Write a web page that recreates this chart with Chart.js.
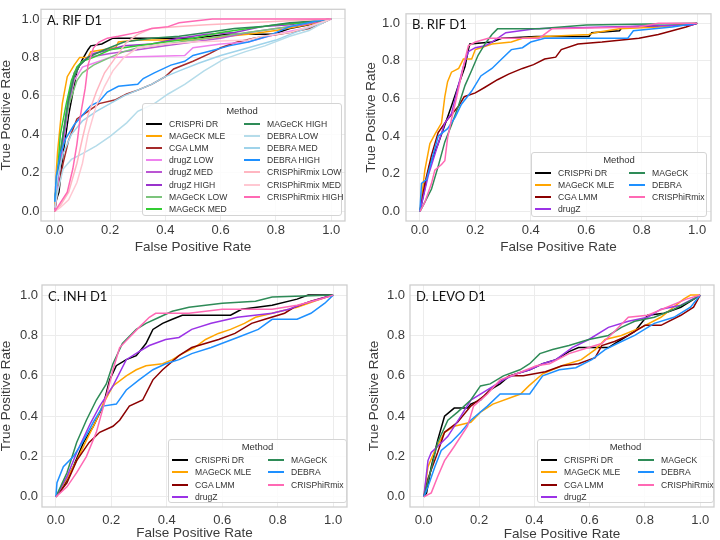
<!DOCTYPE html>
<html>
<head>
<meta charset="utf-8">
<script src="https://cdn.jsdelivr.net/npm/chart.js@4.4.1/dist/chart.umd.min.js"></script>
<style>
  html, body { margin: 0; padding: 0; background: #fff; overflow: hidden; }
  body { width: 720px; height: 540px; position: relative; font-family: 'Liberation Sans', Arial, sans-serif; }
  canvas { position: absolute; }
  .legend { position: absolute; box-sizing: border-box; background: rgba(255,255,255,0.85);
            border: 1px solid #d4d4d4; border-radius: 3px; color: #333; }
  .legend .ttl { position: absolute; left: 0; right: 0; text-align: center; font-size: 9.5px; line-height: 10px; }
  .legend .item { position: absolute; font-size: 8.6px; line-height: 10px; white-space: nowrap; }
  .legend .swatch { position: absolute; width: 16px; height: 2px; }
</style>
</head>
<body>
<canvas id="pA" width="360" height="270" style="left:0;top:0"></canvas>
<canvas id="pB" width="360" height="270" style="left:360px;top:0"></canvas>
<canvas id="pC" width="360" height="275" style="left:0;top:270px"></canvas>
<canvas id="pD" width="360" height="275" style="left:360px;top:270px"></canvas>
<script>
// ---- data: [false positive rate, true positive rate] ----
const TICKS = [0, 0.2, 0.4, 0.6, 0.8, 1.0];

// A. RIF D1
const A_CRISPRI_DR = [[0,0],[0.003,0.05],[0.015,0.1],[0.03,0.3],[0.05,0.5],[0.08,0.73],[0.1,0.79],[0.12,0.84],[0.13,0.86],[0.17,0.87],[0.21,0.9],[0.5,0.9],[0.63,0.92],[0.79,0.92],[0.85,0.95],[0.92,0.97],[0.97,0.99],[1,1]];
const A_MAGECK_MLE = [[0,0],[0.005,0.2],[0.01,0.31],[0.027,0.56],[0.045,0.7],[0.07,0.76],[0.09,0.8],[0.12,0.8],[0.13,0.83],[0.22,0.85],[0.23,0.88],[0.3,0.89],[0.5,0.89],[0.55,0.9],[0.7,0.92],[0.8,0.94],[0.88,0.96],[0.95,0.98],[1,1]];
const A_CGA_LMM = [[0,0],[0.01,0.1],[0.03,0.25],[0.05,0.37],[0.08,0.48],[0.12,0.52],[0.16,0.56],[0.22,0.58],[0.26,0.61],[0.3,0.63],[0.35,0.66],[0.4,0.7],[0.43,0.74],[0.5,0.78],[0.56,0.82],[0.6,0.85],[0.66,0.88],[0.72,0.9],[0.85,0.93],[0.92,0.95],[0.97,0.98],[1,1]];
const A_DRUGZ_LOW = [[0,0],[0.01,0.15],[0.03,0.35],[0.05,0.55],[0.07,0.68],[0.1,0.75],[0.14,0.77],[0.2,0.8],[0.47,0.81],[0.5,0.85],[0.6,0.87],[0.7,0.88],[0.8,0.92],[0.9,0.95],[1,1]];
const A_DRUGZ_MED = [[0,0.05],[0.01,0.15],[0.03,0.35],[0.05,0.55],[0.07,0.7],[0.09,0.76],[0.12,0.8],[0.2,0.82],[0.3,0.84],[0.4,0.86],[0.5,0.88],[0.6,0.9],[0.7,0.93],[0.8,0.95],[0.9,0.97],[1,1]];
const A_DRUGZ_HIGH = [[0,0.05],[0.01,0.2],[0.03,0.4],[0.05,0.6],[0.07,0.72],[0.1,0.78],[0.14,0.82],[0.2,0.84],[0.25,0.86],[0.35,0.87],[0.45,0.9],[0.55,0.92],[0.65,0.93],[0.75,0.96],[0.85,0.97],[0.95,0.99],[1,1]];
const A_MAGECK_LOW = [[0,0.05],[0.01,0.2],[0.03,0.4],[0.05,0.55],[0.08,0.68],[0.1,0.72],[0.14,0.76],[0.2,0.8],[0.25,0.83],[0.3,0.85],[0.4,0.87],[0.55,0.9],[0.65,0.92],[0.75,0.94],[0.85,0.96],[0.95,0.99],[1,1]];
const A_MAGECK_MED = [[0,0.05],[0.01,0.2],[0.02,0.4],[0.04,0.55],[0.06,0.68],[0.08,0.75],[0.1,0.78],[0.14,0.8],[0.2,0.84],[0.3,0.86],[0.4,0.88],[0.5,0.9],[0.6,0.93],[0.7,0.95],[0.8,0.97],[0.9,0.98],[1,1]];
const A_MAGECK_HIGH = [[0,0.05],[0.01,0.2],[0.03,0.4],[0.05,0.58],[0.07,0.7],[0.09,0.76],[0.12,0.8],[0.18,0.84],[0.25,0.88],[0.35,0.9],[0.45,0.91],[0.55,0.93],[0.65,0.95],[0.75,0.96],[0.85,0.98],[0.95,0.99],[1,1]];
const A_DEBRA_LOW = [[0,0.02],[0.01,0.1],[0.03,0.22],[0.06,0.27],[0.1,0.3],[0.15,0.34],[0.2,0.39],[0.26,0.46],[0.3,0.52],[0.36,0.56],[0.41,0.61],[0.47,0.66],[0.54,0.73],[0.61,0.79],[0.69,0.83],[0.76,0.86],[0.85,0.91],[0.92,0.94],[0.97,0.98],[1,1]];
const A_DEBRA_MED = [[0,0.05],[0.01,0.18],[0.03,0.3],[0.06,0.4],[0.1,0.47],[0.15,0.52],[0.2,0.56],[0.25,0.6],[0.3,0.63],[0.35,0.66],[0.4,0.7],[0.45,0.73],[0.52,0.77],[0.6,0.81],[0.7,0.85],[0.8,0.89],[0.87,0.93],[0.93,0.96],[1,1]];
const A_DEBRA_HIGH = [[0,0.05],[0.005,0.18],[0.02,0.3],[0.04,0.38],[0.07,0.45],[0.1,0.5],[0.13,0.55],[0.16,0.57],[0.19,0.62],[0.23,0.65],[0.3,0.66],[0.32,0.69],[0.36,0.72],[0.42,0.76],[0.47,0.78],[0.5,0.81],[0.58,0.84],[0.63,0.86],[0.7,0.88],[0.77,0.91],[0.85,0.96],[0.95,0.99],[1,1]];
const A_CRISPHIRMIX_LOW = [[0,0],[0.02,0.03],[0.05,0.1],[0.08,0.25],[0.1,0.38],[0.12,0.5],[0.15,0.62],[0.18,0.72],[0.22,0.8],[0.26,0.88],[0.3,0.92],[0.35,0.95],[0.45,0.96],[0.55,0.97],[0.7,0.98],[0.85,0.99],[1,1]];
const A_CRISPHIRMIX_MED = [[0,0],[0.02,0.02],[0.05,0.06],[0.08,0.15],[0.1,0.25],[0.12,0.4],[0.15,0.55],[0.18,0.65],[0.21,0.73],[0.25,0.8],[0.3,0.85],[0.4,0.87],[0.5,0.88],[0.7,0.89],[0.75,0.91],[0.85,0.93],[0.92,0.96],[1,1]];
const A_CRISPHIRMIX_HIGH = [[0,0],[0.045,0.1],[0.065,0.22],[0.08,0.35],[0.093,0.5],[0.11,0.64],[0.12,0.76],[0.14,0.85],[0.16,0.88],[0.19,0.9],[0.23,0.91],[0.3,0.93],[0.35,0.95],[0.41,0.96],[0.45,0.98],[0.57,1],[1,1]];

// B. RIF D1
const B_CRISPRI_DR = [[0,0],[0.036,0.25],[0.066,0.36],[0.09,0.46],[0.114,0.56],[0.139,0.67],[0.163,0.77],[0.175,0.86],[0.18,0.89],[0.26,0.9],[0.295,0.92],[0.42,0.93],[0.61,0.93],[0.62,0.95],[0.72,0.96],[0.73,0.98],[0.97,0.99],[1,1]];
const B_MAGECK_MLE = [[0,0],[0.018,0.22],[0.036,0.36],[0.054,0.41],[0.078,0.47],[0.09,0.61],[0.1,0.69],[0.114,0.74],[0.14,0.76],[0.157,0.81],[0.187,0.81],[0.2,0.86],[0.22,0.87],[0.26,0.89],[0.33,0.9],[0.37,0.92],[0.45,0.93],[0.61,0.94],[0.63,0.95],[0.72,0.97],[0.86,0.98],[1,1]];
const B_CGA_LMM = [[0,0],[0.018,0.15],[0.042,0.3],[0.066,0.42],[0.1,0.49],[0.14,0.56],[0.16,0.61],[0.2,0.63],[0.235,0.66],[0.28,0.7],[0.32,0.73],[0.37,0.76],[0.41,0.78],[0.45,0.81],[0.49,0.82],[0.51,0.86],[0.57,0.89],[0.657,0.9],[0.79,0.92],[0.86,0.94],[0.91,0.96],[0.96,0.98],[1,1]];
const B_DRUGZ = [[0,0],[0.03,0.19],[0.066,0.36],[0.09,0.47],[0.114,0.52],[0.139,0.67],[0.157,0.77],[0.175,0.85],[0.2,0.87],[0.235,0.88],[0.26,0.9],[0.31,0.95],[0.415,0.97],[0.67,0.98],[0.98,0.99],[1,1]];
const B_MAGECK = [[0,0],[0.018,0.05],[0.042,0.12],[0.066,0.24],[0.09,0.37],[0.114,0.46],[0.139,0.56],[0.163,0.67],[0.187,0.75],[0.21,0.83],[0.235,0.89],[0.26,0.94],[0.28,0.97],[0.43,0.97],[0.6,0.99],[1,1]];
const B_DEBRA = [[0,0],[0.006,0.15],[0.024,0.17],[0.042,0.27],[0.066,0.4],[0.1,0.44],[0.127,0.5],[0.15,0.57],[0.187,0.64],[0.22,0.72],[0.26,0.76],[0.295,0.81],[0.33,0.86],[0.37,0.87],[0.4,0.9],[0.45,0.92],[0.75,0.92],[0.77,0.96],[0.91,0.98],[1,1]];
const B_CRISPHIRMIX = [[0,0],[0.018,0.05],[0.042,0.15],[0.054,0.22],[0.078,0.25],[0.09,0.27],[0.1,0.39],[0.114,0.49],[0.127,0.57],[0.145,0.69],[0.163,0.81],[0.175,0.88],[0.2,0.9],[0.247,0.92],[0.43,0.92],[0.476,0.97],[0.79,0.98],[0.86,1],[1,1]];

// C. INH D1
const C_CRISPRI_DR = [[0,0],[0.027,0.05],[0.063,0.15],[0.1,0.27],[0.135,0.35],[0.17,0.45],[0.194,0.58],[0.218,0.65],[0.254,0.68],[0.29,0.7],[0.325,0.76],[0.35,0.83],[0.385,0.86],[0.42,0.88],[0.456,0.9],[0.63,0.9],[0.67,0.93],[0.78,0.95],[0.87,0.98],[0.91,1],[1,1]];
const C_MAGECK_MLE = [[0,0],[0.04,0.09],[0.075,0.18],[0.11,0.28],[0.146,0.38],[0.17,0.46],[0.206,0.55],[0.254,0.6],[0.29,0.63],[0.325,0.65],[0.385,0.66],[0.42,0.68],[0.456,0.71],[0.5,0.74],[0.54,0.78],[0.586,0.81],[0.63,0.83],[0.68,0.86],[0.72,0.89],[0.78,0.91],[0.87,0.94],[0.955,0.98],[1,1]];
const C_CGA_LMM = [[0,0],[0.04,0.07],[0.075,0.18],[0.12,0.27],[0.158,0.32],[0.206,0.35],[0.23,0.38],[0.265,0.45],[0.313,0.48],[0.35,0.58],[0.385,0.63],[0.444,0.7],[0.49,0.74],[0.587,0.78],[0.646,0.81],[0.706,0.86],[0.754,0.88],[0.825,0.91],[0.86,0.94],[0.92,0.97],[1,1]];
const C_DRUGZ = [[0,0],[0.04,0.1],[0.075,0.22],[0.123,0.36],[0.158,0.45],[0.206,0.55],[0.254,0.68],[0.3,0.72],[0.337,0.75],[0.396,0.78],[0.444,0.79],[0.49,0.83],[0.56,0.86],[0.655,0.89],[0.78,0.91],[0.84,0.93],[0.9,0.96],[1,1]];
const C_MAGECK = [[0,0],[0.04,0.12],[0.075,0.27],[0.11,0.38],[0.146,0.48],[0.182,0.56],[0.206,0.66],[0.24,0.76],[0.29,0.83],[0.325,0.86],[0.373,0.89],[0.42,0.92],[0.48,0.94],[0.6,0.96],[0.72,0.97],[0.78,0.99],[1,1]];
const C_DEBRA = [[0,0],[0.004,0.07],[0.027,0.15],[0.063,0.2],[0.1,0.28],[0.135,0.37],[0.17,0.45],[0.218,0.46],[0.254,0.53],[0.3,0.58],[0.35,0.63],[0.396,0.66],[0.444,0.68],[0.49,0.71],[0.56,0.74],[0.655,0.79],[0.73,0.83],[0.78,0.88],[0.87,0.88],[0.92,0.91],[0.97,0.96],[1,1]];
const C_CRISPHIRMIX = [[0,0],[0.04,0.05],[0.075,0.12],[0.11,0.2],[0.146,0.32],[0.182,0.5],[0.206,0.63],[0.23,0.74],[0.265,0.79],[0.3,0.84],[0.337,0.89],[0.36,0.91],[0.48,0.91],[0.6,0.93],[0.78,0.93],[0.87,0.95],[0.955,0.98],[1,1]];

// D. LEVO D1
const D_CRISPRI_DR = [[0,0],[0.01,0.02],[0.027,0.15],[0.05,0.28],[0.075,0.4],[0.11,0.44],[0.158,0.44],[0.17,0.46],[0.205,0.48],[0.24,0.53],[0.276,0.56],[0.31,0.6],[0.383,0.63],[0.43,0.66],[0.478,0.68],[0.525,0.72],[0.56,0.74],[0.668,0.74],[0.715,0.78],[0.763,0.82],[0.81,0.9],[0.87,0.91],[0.93,0.94],[1,1]];
const D_MAGECK_MLE = [[0,0],[0.015,0.15],[0.04,0.23],[0.075,0.32],[0.11,0.35],[0.17,0.37],[0.205,0.42],[0.25,0.46],[0.35,0.51],[0.38,0.55],[0.43,0.61],[0.5,0.65],[0.57,0.68],[0.62,0.73],[0.656,0.78],[0.715,0.8],[0.787,0.84],[0.858,0.89],[0.94,0.98],[0.965,1],[1,1]];
const D_CGA_LMM = [[0,0],[0.015,0.09],[0.05,0.22],[0.075,0.32],[0.122,0.37],[0.17,0.45],[0.217,0.5],[0.265,0.56],[0.31,0.6],[0.36,0.6],[0.44,0.62],[0.5,0.65],[0.56,0.66],[0.62,0.69],[0.644,0.75],[0.69,0.77],[0.74,0.8],[0.8,0.85],[0.858,0.85],[0.93,0.9],[0.976,0.94],[1,1]];
const D_DRUGZ = [[0,0],[0.015,0.18],[0.027,0.22],[0.05,0.25],[0.087,0.3],[0.134,0.4],[0.17,0.48],[0.23,0.53],[0.288,0.58],[0.336,0.61],[0.383,0.63],[0.43,0.66],[0.478,0.68],[0.537,0.74],[0.597,0.78],[0.668,0.84],[0.74,0.87],[0.81,0.89],[0.858,0.93],[0.93,0.95],[1,1]];
const D_MAGECK = [[0,0],[0.027,0.14],[0.05,0.27],[0.087,0.38],[0.122,0.42],[0.17,0.48],[0.205,0.55],[0.24,0.56],[0.288,0.6],[0.348,0.63],[0.383,0.66],[0.42,0.71],[0.466,0.73],[0.525,0.75],[0.597,0.78],[0.668,0.8],[0.715,0.84],[0.763,0.87],[0.834,0.89],[0.905,0.93],[0.976,0.98],[1,1]];
const D_DEBRA = [[0,0],[0.015,0.05],[0.04,0.15],[0.063,0.23],[0.098,0.27],[0.134,0.32],[0.17,0.38],[0.23,0.45],[0.276,0.51],[0.383,0.51],[0.43,0.6],[0.49,0.63],[0.55,0.64],[0.608,0.68],[0.656,0.73],[0.7,0.76],[0.763,0.8],[0.834,0.86],[0.905,0.89],[0.965,0.94],[1,1]];
const D_CRISPHIRMIX = [[0,0],[0.027,0.02],[0.05,0.1],[0.075,0.18],[0.11,0.25],[0.158,0.35],[0.18,0.45],[0.23,0.51],[0.276,0.58],[0.336,0.61],[0.407,0.65],[0.455,0.66],[0.525,0.71],[0.597,0.74],[0.644,0.76],[0.69,0.82],[0.74,0.89],[0.81,0.9],[0.88,0.94],[0.95,0.98],[1,1]];

const METHODS_A = ['CRISPRi DR', 'MAGeCK MLE', 'CGA LMM', 'drugZ LOW', 'drugZ MED', 'drugZ HIGH',
  'MAGeCK LOW', 'MAGeCK MED', 'MAGeCK HIGH', 'DEBRA LOW', 'DEBRA MED', 'DEBRA HIGH',
  'CRISPhiRmix LOW', 'CRISPhiRmix MED', 'CRISPhiRmix HIGH'];
const METHODS = ['CRISPRi DR', 'MAGeCK MLE', 'CGA LMM', 'drugZ', 'MAGeCK', 'DEBRA', 'CRISPhiRmix'];

const CURVES_A = [A_CRISPRI_DR, A_MAGECK_MLE, A_CGA_LMM, A_DRUGZ_LOW, A_DRUGZ_MED, A_DRUGZ_HIGH,
  A_MAGECK_LOW, A_MAGECK_MED, A_MAGECK_HIGH, A_DEBRA_LOW, A_DEBRA_MED, A_DEBRA_HIGH,
  A_CRISPHIRMIX_LOW, A_CRISPHIRMIX_MED, A_CRISPHIRMIX_HIGH];
const CURVES_B = [B_CRISPRI_DR, B_MAGECK_MLE, B_CGA_LMM, B_DRUGZ, B_MAGECK, B_DEBRA, B_CRISPHIRMIX];
const CURVES_C = [C_CRISPRI_DR, C_MAGECK_MLE, C_CGA_LMM, C_DRUGZ, C_MAGECK, C_DEBRA, C_CRISPHIRMIX];
const CURVES_D = [D_CRISPRI_DR, D_MAGECK_MLE, D_CGA_LMM, D_DRUGZ, D_MAGECK, D_DEBRA, D_CRISPHIRMIX];

// ---- styles ----
const COLORS_A = ['#000000', '#ffa500', '#a52a2a', '#ee82ee', '#ba55d3', '#9932cc',
  '#7cc47c', '#32cd32', '#2e8b57', '#b5dcea', '#9fd3ea', '#1e90ff',
  '#ffb6c1', '#ffc8d2', '#ff69b4'];
const COLORS = ['#000000', '#ffa500', '#8b0000', '#9b32e6', '#2e8b57', '#1e90ff', '#ff69b4'];

const TICK_FONT = { family: "'Liberation Sans', Arial, sans-serif", size: 13 };
const TITLE_FONT = { family: "'Liberation Sans', Arial, sans-serif", size: 13.5, lineHeight: 1 };
const TEXT_COLOR = '#3a3a3a';
const GRID_COLOR = '#ececec';

const frame = {
  id: 'frame',
  beforeDatasetsDraw(chart) {
    const { ctx, chartArea: a } = chart;
    ctx.save();
    ctx.strokeStyle = '#cfcfcf';
    ctx.lineWidth = 1.3;
    ctx.strokeRect(a.left, a.top, a.right - a.left, a.bottom - a.top);
    ctx.restore();
  },
};

const panelLabel = {
  id: 'panelLabel',
  afterDraw(chart, args, o) {
    const { ctx, chartArea: a } = chart;
    ctx.save();
    ctx.font = "13px Lato, 'Open Sans', sans-serif";
    ctx.fillStyle = '#111';
    ctx.textBaseline = 'alphabetic';
    ctx.fillText(o.text, a.left + 6, a.top + 15.5);
    ctx.restore();
  },
};

function drawPanel(id, label, methods, curves, colors, L) {
  const datasets = curves.map((pts, i) => ({
    label: methods[i],
    data: pts,
    showLine: true,
    borderColor: colors[i],
    backgroundColor: colors[i],
    borderWidth: 1.5,
    pointRadius: 0,
    tension: 0,
    order: -i,
  }));
  return new Chart(document.getElementById(id), {
    type: 'scatter',
    data: { datasets },
    plugins: [frame, panelLabel],
    options: {
      responsive: false,
      animation: false,
      events: [],
      layout: { padding: { top: L.top, right: L.right, left: 0, bottom: 0 } },
      plugins: {
        legend: { display: false },
        tooltip: { enabled: false },
        panelLabel: { text: label },
      },
      scales: {
        x: {
          type: 'linear', min: -0.05, max: 1.05,
          afterBuildTicks: s => { s.ticks = TICKS.map(v => ({ value: v })); },
          afterFit: s => { s.height = L.xh; },
          grid: { color: GRID_COLOR, drawTicks: false },
          border: { display: false },
          ticks: { font: TICK_FONT, color: TEXT_COLOR, padding: L.xtp, callback: v => v.toFixed(1), maxRotation: 0 },
          title: { display: true, text: 'False Positive Rate', font: TITLE_FONT, color: TEXT_COLOR, padding: { top: 0, bottom: L.xtt } },
        },
        y: {
          type: 'linear', min: -0.05, max: 1.05,
          afterBuildTicks: s => { s.ticks = TICKS.map(v => ({ value: v })); },
          afterFit: s => { s.width = L.yw; },
          grid: { color: GRID_COLOR, drawTicks: false },
          border: { display: false },
          ticks: { font: TICK_FONT, color: TEXT_COLOR, padding: L.ytp, callback: v => v.toFixed(1) },
          title: { display: true, text: 'True Positive Rate', font: TITLE_FONT, color: TEXT_COLOR, padding: { top: L.ytt, bottom: 0 } },
        },
      },
    },
  });
}

function buildLegend(box, methods, colors) {
  const el = document.createElement('div');
  el.className = 'legend';
  Object.assign(el.style, { left: box.x + 'px', top: box.y + 'px', width: box.w + 'px', height: box.h + 'px' });
  let html = '<div class="ttl" style="top:2px">Method</div>';
  const rows = Math.ceil(methods.length / 2);
  methods.forEach((m, i) => {
    const col = i < rows ? 0 : 1;
    const row = col ? i - rows : i;
    const cy = Math.round(19.5 + row * box.dy);
    const x0 = col ? box.c2 : 3;
    html += `<div class="swatch" style="left:${x0}px;top:${cy - 1}px;background:${colors[i]}"></div>`;
    html += `<div class="item" style="left:${x0 + 23}px;top:${cy - 5}px">${m}</div>`;
  });
  el.innerHTML = html;
  document.body.appendChild(el);
}

drawPanel('pA', 'A. RIF D1', METHODS_A, CURVES_A, COLORS_A,
  { top: 3, right: 15, yw: 41, xh: 49, ytp: 1.5, ytt: 0, xtp: 2, xtt: 15.5 });
drawPanel('pB', 'B. RIF D1', METHODS, CURVES_B, COLORS,
  { top: 3, right: 9, yw: 46, xh: 49, ytp: 6, ytt: 4.5, xtp: 2, xtt: 15.5 });
drawPanel('pC', 'C. INH D1', METHODS, CURVES_C, COLORS,
  { top: 15, right: 13, yw: 42, xh: 38, ytp: 4, ytt: 0, xtp: 6, xtt: 4.5 });
drawPanel('pD', 'D. LEVO D1', METHODS, CURVES_D, COLORS,
  { top: 15, right: 6, yw: 50, xh: 38, ytp: 5, ytt: 7.5, xtp: 6, xtt: 3.5 });

buildLegend({ x: 142, y: 103, w: 200, h: 113, dy: 12.2, c2: 101 }, METHODS_A, COLORS_A);
buildLegend({ x: 531, y: 152, w: 176, h: 65, dy: 12.2, c2: 97 }, METHODS, COLORS);
buildLegend({ x: 168, y: 439, w: 179, h: 64, dy: 12.5, c2: 99 }, METHODS, COLORS);
buildLegend({ x: 537, y: 439, w: 177, h: 64, dy: 12.5, c2: 100 }, METHODS, COLORS);
</script>
</body>
</html>
